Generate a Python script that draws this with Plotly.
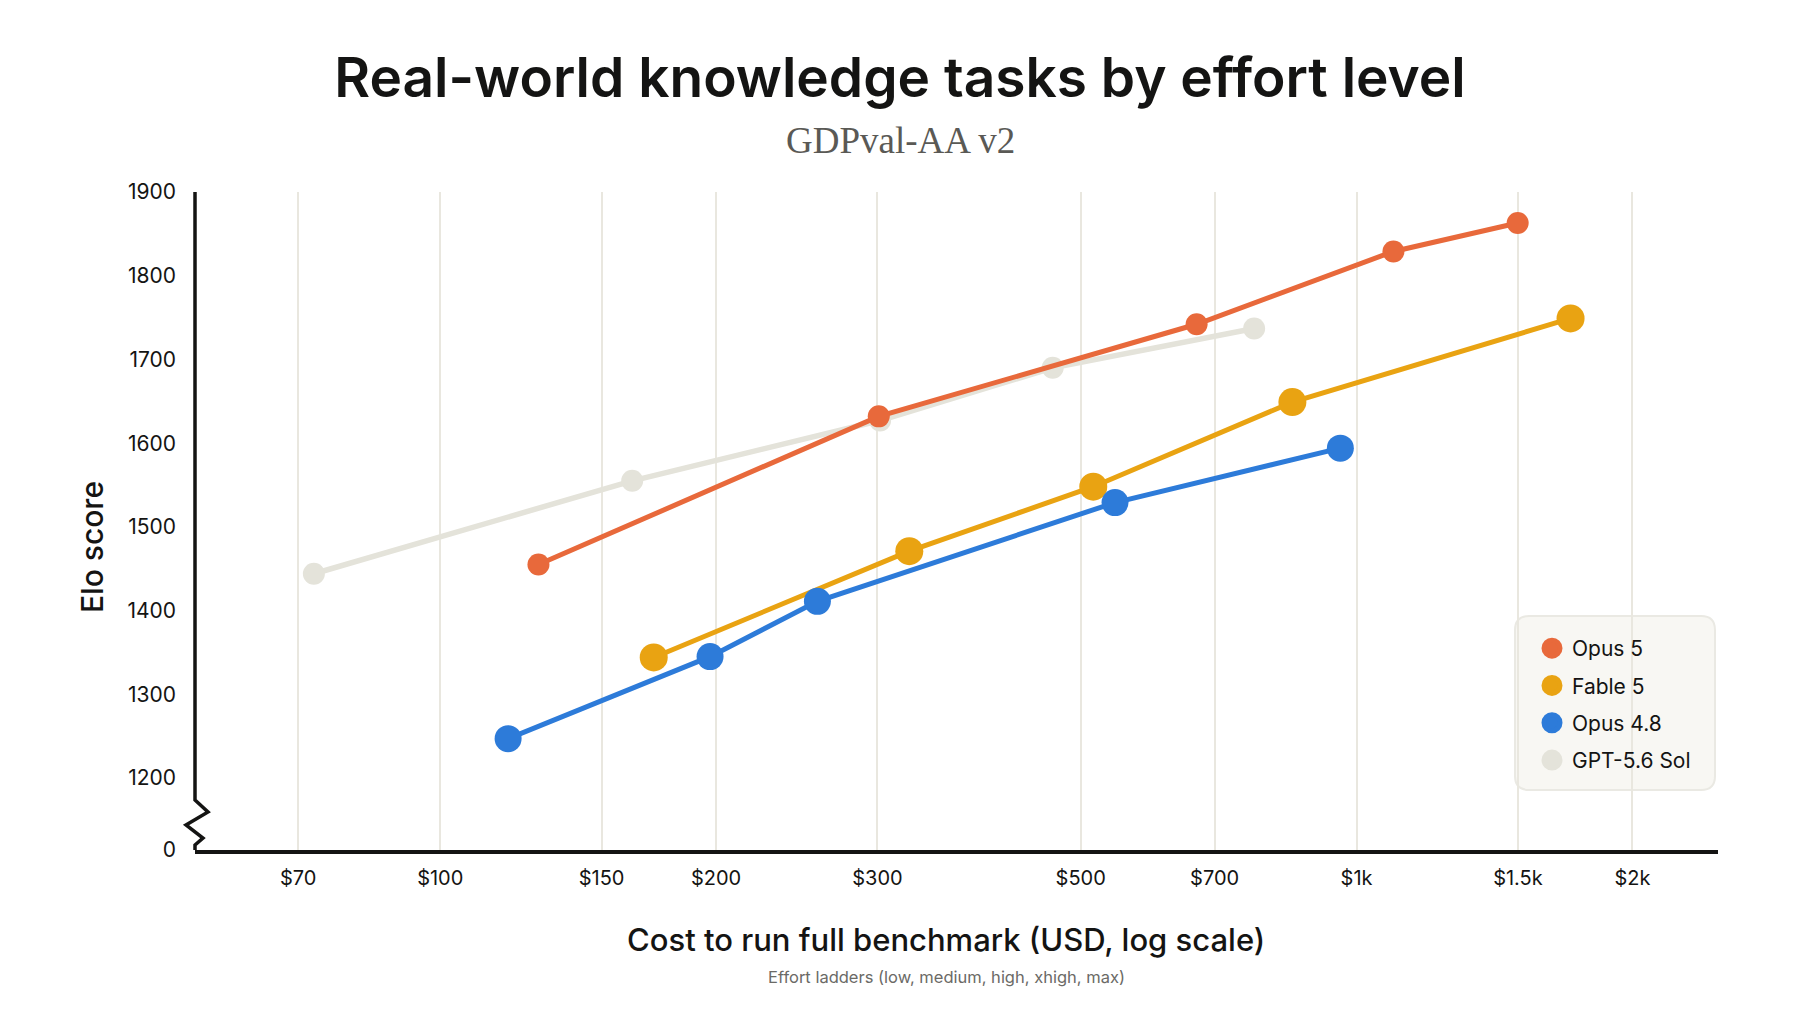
import plotly.graph_objects as go

# cost to run the full benchmark (USD) and Elo score, one point per effort level
series_names = ['Opus 5', 'Fable 5', 'Opus 4.8', 'GPT-5.6 Sol']

opus5_cost = [128, 301, 669, 1097, 1499]
opus5_elo = [1455, 1632, 1742, 1829, 1863]

fable5_cost = [171, 325, 516, 851, 1712]
fable5_elo = [1344, 1471, 1548, 1649, 1749]

opus48_cost = [118.6, 197, 258, 545, 960]
opus48_elo = [1247, 1345, 1411, 1529, 1594]

gpt_cost = [72.8, 162, 302, 466, 773]
gpt_elo = [1444, 1555, 1627, 1690, 1737]

x_ticks = [70, 100, 150, 200, 300, 500, 700, 1000, 1500, 2000]
x_tick_labels = ['$70', '$100', '$150', '$200', '$300', '$500', '$700', '$1k', '$1.5k', '$2k']

y_floor = 1114  # broken axis: the bottom of the axis is labelled 0
y_ticks = [y_floor, 1200, 1300, 1400, 1500, 1600, 1700, 1800, 1900]
y_tick_labels = ['0', '1200', '1300', '1400', '1500', '1600', '1700', '1800', '1900']

colors = {
    'Opus 5': '#E8693B',
    'Fable 5': '#E9A312',
    'Opus 4.8': '#2D7BD9',
    'GPT-5.6 Sol': '#E4E3DA',
}

# page body has an 8px margin, so the figure is a bit smaller than the window
PAGE_W, PAGE_H, BODY = 1800, 1013, 8
W, H = PAGE_W - 2 * BODY, PAGE_H - 2 * BODY
# plot area, in window pixels
PLOT_L, PLOT_R, PLOT_T, PLOT_B = 195, 1718, 192, 850
INK = '#141413'
FONT = 'Inter'


def px_x(px):
    return (px - PLOT_L) / (PLOT_R - PLOT_L)


def px_y(py):
    return (PLOT_B - py) / (PLOT_B - PLOT_T)


def rounded_box(x0, y0, x1, y1, r):
    # rounded rectangle path in paper coords, corners given in pixels
    pts = []
    pts.append('M %f,%f' % (px_x(x0 + r), px_y(y0)))
    pts.append('L %f,%f' % (px_x(x1 - r), px_y(y0)))
    pts.append('Q %f,%f %f,%f' % (px_x(x1), px_y(y0), px_x(x1), px_y(y0 + r)))
    pts.append('L %f,%f' % (px_x(x1), px_y(y1 - r)))
    pts.append('Q %f,%f %f,%f' % (px_x(x1), px_y(y1), px_x(x1 - r), px_y(y1)))
    pts.append('L %f,%f' % (px_x(x0 + r), px_y(y1)))
    pts.append('Q %f,%f %f,%f' % (px_x(x0), px_y(y1), px_x(x0), px_y(y1 - r)))
    pts.append('L %f,%f' % (px_x(x0), px_y(y0 + r)))
    pts.append('Q %f,%f %f,%f' % (px_x(x0), px_y(y0), px_x(x0 + r), px_y(y0)))
    return ' '.join(pts) + ' Z'


def axis_with_break():
    # y axis line with a zigzag break just above the x axis
    offsets = [(0, PLOT_T), (0, 800), (13, 812), (-9, 825), (8, 838), (0, 845), (0, PLOT_B)]
    path = 'M ' + ' L '.join('%f,%f' % (px_x(PLOT_L + dx), px_y(py)) for dx, py in offsets)
    return path


fig = go.Figure()

traces = [
    ('GPT-5.6 Sol', gpt_cost, gpt_elo, 22, 5.5, 4),
    ('Opus 5', opus5_cost, opus5_elo, 22, 5, 1),
    ('Fable 5', fable5_cost, fable5_elo, 28, 5, 2),
    ('Opus 4.8', opus48_cost, opus48_elo, 27, 5, 3),
]
for name, xs, ys, msize, lw, rank in traces:
    fig.add_trace(go.Scatter(x=xs, y=ys, name=name, mode='lines+markers',
                             line=dict(color=colors[name], width=lw),
                             marker=dict(color=colors[name], size=msize),
                             cliponaxis=False, showlegend=False))
    # legend entry: dot only (outline widens the capped legend symbol)
    fig.add_trace(go.Scatter(x=[None], y=[None], name=name, mode='markers',
                             marker=dict(color=colors[name], size=22,
                                         line=dict(color=colors[name], width=5)),
                             legendgroup=name, legendrank=rank, showlegend=True))

fig.update_layout(
    width=W, height=H,
    margin=dict(l=PLOT_L - BODY, r=PAGE_W - BODY - PLOT_R, t=PLOT_T - BODY, b=PAGE_H - BODY - PLOT_B),
    paper_bgcolor='white', plot_bgcolor='white',
    font=dict(family=FONT, color=INK),
    title=dict(text='Real-world knowledge tasks by effort level', x=0.5, xref='container',
               y=1 - (78 - BODY) / H, yref='container', xanchor='center', yanchor='middle',
               font=dict(family=FONT, size=55, weight=600, color=INK)),
    xaxis=dict(type='log', range=[1.7324, 3.3944],
               tickvals=x_ticks, ticktext=x_tick_labels,
               tickfont=dict(size=20, color=INK), ticks='', ticklabelstandoff=7,
               showgrid=True, gridcolor='#E9E7DF', gridwidth=2,
               showline=True, linecolor=INK, linewidth=3.5, zeroline=False),
    yaxis=dict(range=[y_floor, 1900], tickvals=y_ticks, ticktext=y_tick_labels,
               tickfont=dict(size=21, color=INK), ticks='', ticklabelstandoff=18,
               showgrid=False, showline=False, zeroline=False),
    legend=dict(x=px_x(1532), y=px_y(628), xanchor='left', yanchor='top',
                bgcolor='rgba(0,0,0,0)', borderwidth=0, itemwidth=30,
                tracegroupgap=7, font=dict(size=21, color=INK)),
    showlegend=True,
)

fig.add_shape(type='path', xref='paper', yref='paper', layer='below',
              path=rounded_box(1515, 616, 1715, 790, 14),
              fillcolor='#F8F7F3', line=dict(color='#EAE9E3', width=2))
fig.add_shape(type='path', xref='paper', yref='paper', path=axis_with_break(),
              line=dict(color=INK, width=3.5))

fig.add_annotation(text='GDPval-AA v2', xref='paper', yref='paper',
                   x=px_x(900), y=px_y(140), xanchor='center', yanchor='middle', showarrow=False,
                   font=dict(family='Liberation Serif', size=37, color='#5A5955'))
fig.add_annotation(text='Elo score', xref='paper', yref='paper', textangle=-90,
                   x=px_x(92), y=px_y(547), xanchor='center', yanchor='middle', showarrow=False,
                   font=dict(family=FONT, size=30, weight=500, color=INK))
fig.add_annotation(text='Cost to run full benchmark (USD, log scale)', xref='paper', yref='paper',
                   x=px_x(946), y=px_y(939), xanchor='center', yanchor='middle', showarrow=False,
                   font=dict(family=FONT, size=31, weight=500, color=INK))
fig.add_annotation(text='Effort ladders (low, medium, high, xhigh, max)', xref='paper', yref='paper',
                   x=px_x(946), y=px_y(977), xanchor='center', yanchor='middle', showarrow=False,
                   font=dict(family=FONT, size=16.5, color='#6B6A66'))

fig.write_html('out.html')
